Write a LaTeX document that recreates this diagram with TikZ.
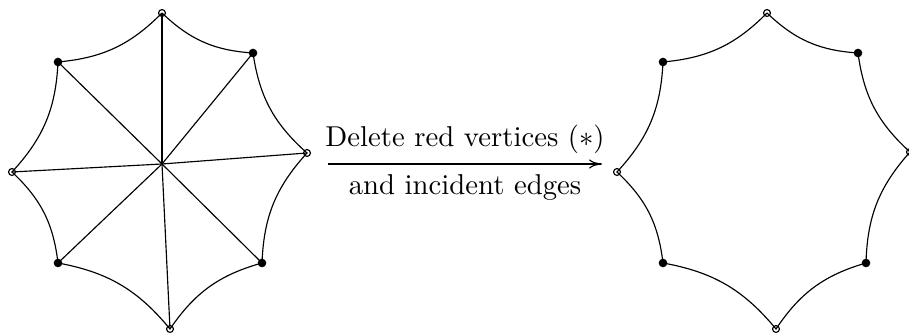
\documentclass[tikz,border=0pt]{standalone}
\usetikzlibrary{arrows.meta}
\begin{document}
\begin{tikzpicture}[x=0.348pt,y=0.348pt,
  opendot/.style={circle,draw,inner sep=0pt,minimum size=2.4pt},
  fulldot/.style={circle,fill,inner sep=0pt,minimum size=3pt},
  hub/.style={inner sep=0pt,minimum size=0pt},
  rim/.style={bend right=20}]
\useasboundingbox (0,0) rectangle (909,333);
% left graph
\node[opendot] (t) at (162,320) {};
\node[fulldot] (ur) at (253,280) {};
\node[opendot] (r) at (307,180) {};
\node[fulldot] (lr) at (262,70) {};
\node[opendot] (b) at (170,4) {};
\node[fulldot] (ll) at (58,70) {};
\node[opendot] (l) at (12,161) {};
\node[fulldot] (ul) at (58,271) {};
\node[hub] (c) at (162,169) {};
\draw (t.center) to[rim] (ur.center) to[rim] (r.center) to[rim] (lr.center)
  to[rim] (b.center) to[rim] (ll.center) to[rim] (l.center) to[rim] (ul.center)
  to[rim] (t.center);
\foreach \v in {t,ur,r,lr,b,ll,l,ul} \draw (c.center) -- (\v.center);
% right graph
\node[opendot] (t2) at (767,320) {};
\node[fulldot] (ur2) at (858,280) {};
\node[opendot] (r2) at (910,181) {};
\node[fulldot] (lr2) at (866,70) {};
\node[opendot] (b2) at (776,4) {};
\node[fulldot] (ll2) at (663,70) {};
\node[opendot] (l2) at (617,161) {};
\node[fulldot] (ul2) at (663,271) {};
\draw (t2.center) to[rim] (ur2.center) to[rim] (r2.center) to[rim] (lr2.center)
  to[rim] (b2.center) to[rim] (ll2.center) to[rim] (l2.center) to[rim] (ul2.center)
  to[rim] (t2.center);
% arrow
\coordinate (as) at (328,169);
\coordinate (ae) at (602,169);
\draw[-{To[length=4.5pt,width=3.2pt]}] (as) -- node[above] {Delete red vertices $(*)$} node[below] {and incident edges} (ae);
\end{tikzpicture}
\end{document}
